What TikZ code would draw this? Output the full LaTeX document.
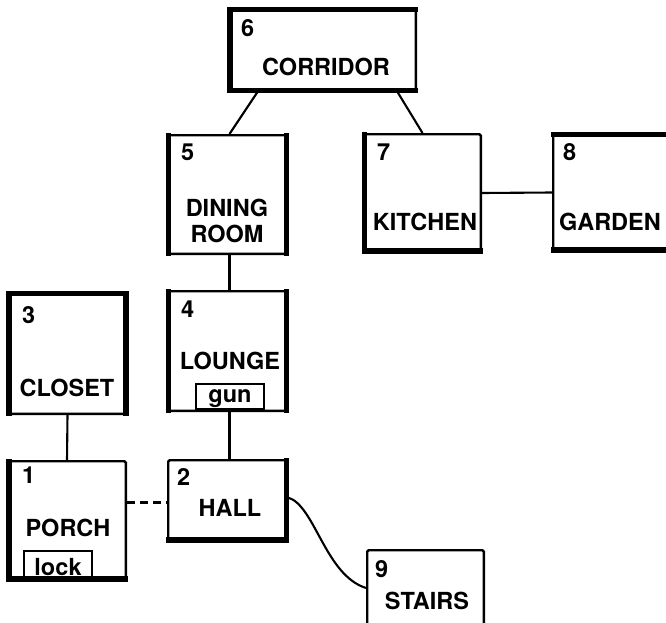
\documentclass[tikz,border=0pt]{standalone}
\usepackage{fontspec}
\setmainfont{TeX Gyre Heros}
\usetikzlibrary{calc}
\tikzset{
  room/.style={draw, line width=2.4pt, rectangle, inner sep=0pt, rounded corners=1.5pt, fill=white},
  item/.style={draw, line width=2.2pt, rectangle, inner sep=0pt, fill=white},
  num/.style={anchor=base west, inner sep=0pt, font=\bfseries\fontsize{23.5}{25}\selectfont},
  lbl/.style={anchor=base, inner sep=0pt, font=\bfseries\fontsize{23.5}{25}\selectfont},
  link/.style={line width=2.1pt},
}
\newcommand\mkroom[5]{%
  \pgfmathsetmacro\rw{#4-#2-2.4}\pgfmathsetmacro\rh{#5-#3-2.4}%
  \node[room, minimum width=\rw pt, minimum height=\rh pt] (#1) at ({(#2+#4)/2},{(#3+#5)/2}) {};}
\newcommand\mkitem[5]{%
  \pgfmathsetmacro\rw{#4-#2-2.2}\pgfmathsetmacro\rh{#5-#3-2.2}%
  \node[item, minimum width=\rw pt, minimum height=\rh pt] (#1) at ({(#2+#4)/2},{(#3+#5)/2}) {};}
\newcommand\thL[2]{\fill ($(#1.north west)+(-1.2,-1.2)$) rectangle ($(#1.south west)+(#2-1.2,1.2)$);}
\newcommand\thR[2]{\fill ($(#1.north east)+(1.2,-1.2)$) rectangle ($(#1.south east)+(1.2-#2,1.2)$);}
\newcommand\thT[2]{\fill ($(#1.north west)+(-1.2,-1.2)$) rectangle ($(#1.north east)+(1.2,#2-1.2)$);}
\newcommand\thB[2]{\fill ($(#1.south west)+(-1.2,1.2)$) rectangle ($(#1.south east)+(1.2,1.2-#2)$);}
\begin{document}
\begin{tikzpicture}[x=1pt,y=-1pt]
\useasboundingbox (0,0) rectangle (666,623);
\clip (0,0) rectangle (666,623);
% rooms
\mkroom{corridor}{228}{8}{417}{92}
\mkroom{dining}{167}{134}{288}{255}
\mkroom{closet}{7}{292}{128}{415}
\mkroom{lounge}{167}{290}{288}{412}
\mkroom{porch}{7}{460}{127}{581}
\mkroom{hall}{167}{459}{288}{542}
\mkroom{kitchen}{363}{133}{482}{253}
\mkroom{garden}{552}{133}{672}{252}
\mkroom{stairs}{366}{549}{485}{640}
% thick sides
\thT{corridor}{5}\thL{corridor}{6}\thB{corridor}{5}
\thL{dining}{5}\thR{dining}{5}
\thT{closet}{5}\thL{closet}{6}\thR{closet}{6}
\thL{lounge}{5}\thR{lounge}{5}
\thL{porch}{6}\thB{porch}{6}
\thR{hall}{5}\thB{hall}{6}
\thL{kitchen}{5}\thB{kitchen}{6}
\thT{garden}{5}\thB{garden}{6}
% items
\mkitem{gun}{195}{383}{265}{410}
\mkitem{lock}{23}{550}{93}{578}
% connectors
\draw[link] ($(corridor.south)+(-65,0)$) -- ($(dining.north)+(2,0)$);
\draw[link] ($(corridor.south)+(75,0)$) -- (kitchen.north);
\draw[link] (kitchen.east) -- (garden.west);
\draw[link] ($(dining.south)+(2,0)$) -- ($(lounge.north)+(2,0)$);
\draw[link] ($(lounge.south)+(2,0)$) -- ($(hall.north)+(2,0)$);
\draw[link] (closet.south) -- (porch.north);
\draw[link, dash pattern=on 8pt off 5pt] ($(porch.east |- hall.west)+(0,2)$) -- ($(hall.west)+(0,2)$);
\draw[link] ($(hall.east)+(0,-3)$) .. controls +(27,8) and +(-41,-13) .. ($(stairs.north west)+(0,39)$);
% labels
\node[num] (n6) at (241,37) {6};
\node[lbl] (t6) at (326,76) {CORRIDOR};
\node[num] (n5) at (181,160) {5};
\node[lbl] (t5a) at (227,216) {DINING};
\node[lbl] (t5b) at (227,242) {ROOM};
\node[num] (n3) at (22,323) {3};
\node[lbl] (t3) at (67,396) {CLOSET};
\node[num] (n4) at (181,317) {4};
\node[lbl] (t4) at (230,369) {LOUNGE};
\node[lbl] (tgun) at (230,402) {gun};
\node[num] (n1) at (22,483) {1};
\node[lbl] (t1) at (68,536) {PORCH};
\node[lbl] (tlock) at (58,575) {lock};
\node[num] (n2) at (177,485) {2};
\node[lbl] (t2) at (230,516) {HALL};
\node[num] (n7) at (377,160) {7};
\node[lbl] (t7) at (425,230) {KITCHEN};
\node[num] (n8) at (563,160) {8};
\node[lbl] (t8) at (610,230) {GARDEN};
\node[num] (n9) at (375,577) {9};
\node[lbl] (t9) at (427,609) {STAIRS};
\end{tikzpicture}
\end{document}
